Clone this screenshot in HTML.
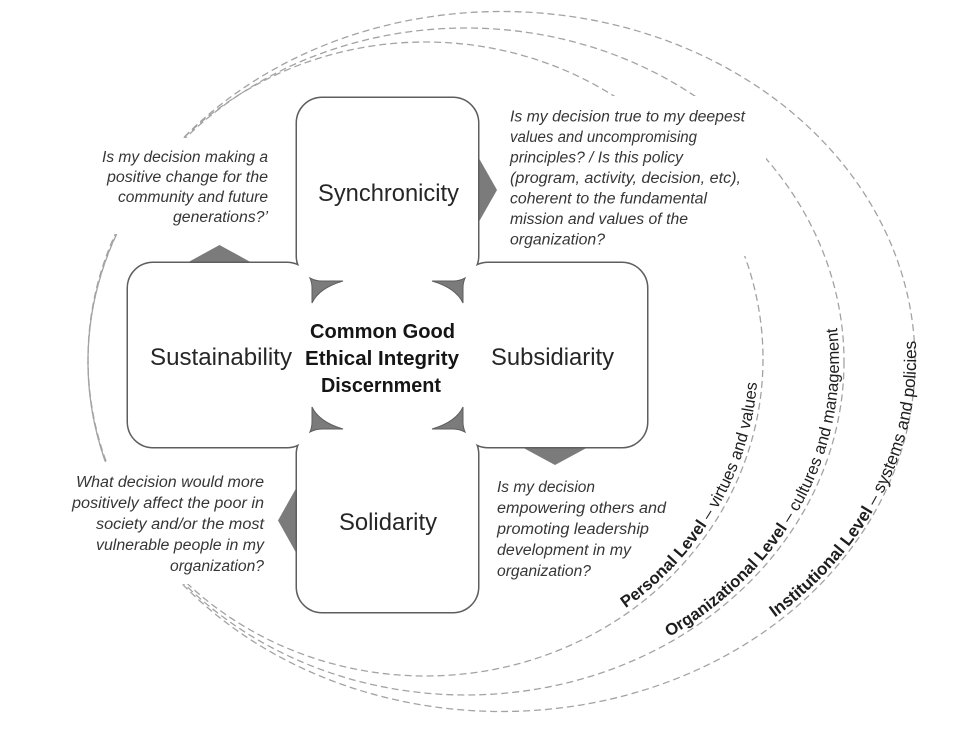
<!DOCTYPE html>
<html>
<head>
<meta charset="utf-8">
<style>
html,body{margin:0;padding:0;background:#fff;}
svg{display:block;}
</style>
</head>
<body>
<svg width="969" height="752" viewBox="0 0 969 752" xmlns="http://www.w3.org/2000/svg" xmlns:xlink="http://www.w3.org/1999/xlink">
<rect width="969" height="752" fill="#fff"/>

<!-- dashed level ellipses -->
<g fill="none" stroke="#a3a3a3" stroke-width="1.3" stroke-dasharray="7 4">
  <ellipse cx="425.5" cy="359" rx="337.5" ry="317"/>
  <ellipse cx="466" cy="361.5" rx="378" ry="333.5"/>
  <ellipse cx="501.5" cy="361.5" rx="413.5" ry="350"/>
</g>

<!-- white text-box covers -->
<g fill="#fff">
  <rect x="84" y="138" width="201" height="96"/>
  <rect x="498" y="96" width="268" height="160"/>
  <rect x="56" y="462" width="221" height="122"/>
</g>

<!-- outer pointer triangles -->
<g fill="#7b7b7b">
  <polygon points="476,153 497,190 476,227"/>
  <polygon points="183,265 219.5,245 256,265"/>
  <polygon points="518,445 555,465 592,445"/>
  <polygon points="299,483 278,520.5 299,558"/>
</g>

<defs>
  <path id="notch" d="M309.9,277.9 A25 25 0 0 0 322,281 L343,281 Q319,288 312,303 L312,288 A25 25 0 0 0 309.9,277.9 Z"/>
  <path id="pP" d="M625.6,608.2 A332.5 312 0 0 0 750.7,294.1" fill="none"/>
  <path id="pO" d="M669.1,637 A373 328.5 0 0 0 826.3,276.5" fill="none"/>
  <path id="pI" d="M774.8,617.5 A408.5 344.5 0 0 0 896.1,250" fill="none"/>
</defs>

<!-- boxes: union outline -->
<g fill="none" stroke="#5e5e5e" stroke-width="3">
  <rect x="297" y="98" width="181" height="183" rx="25"/>
  <rect x="128" y="263" width="184" height="184" rx="25"/>
  <rect x="463" y="263" width="184" height="184" rx="25"/>
  <rect x="297" y="429" width="181" height="183" rx="25"/>
</g>
<g fill="#fff">
  <rect x="297" y="98" width="181" height="183" rx="25"/>
  <rect x="128" y="263" width="184" height="184" rx="25"/>
  <rect x="463" y="263" width="184" height="184" rx="25"/>
  <rect x="297" y="429" width="181" height="183" rx="25"/>
  <!-- open center -->
  <rect x="310.3" y="279.3" width="154.4" height="151.4"/>
</g>

<!-- inner notch triangles -->
<g fill="#7b7b7b" stroke="#5e5e5e" stroke-width="1">
  <use xlink:href="#notch" href="#notch"/>
  <use xlink:href="#notch" href="#notch" transform="translate(775,0) scale(-1,1)"/>
  <use xlink:href="#notch" href="#notch" transform="translate(0,710) scale(1,-1)"/>
  <use xlink:href="#notch" href="#notch" transform="translate(775,710) scale(-1,-1)"/>
</g>

<!-- box labels -->
<g font-family="'Liberation Sans', Arial, sans-serif" font-size="24" fill="#262626">
  <text x="318" y="201" textLength="141" lengthAdjust="spacingAndGlyphs">Synchronicity</text>
  <text x="150" y="365" textLength="142" lengthAdjust="spacingAndGlyphs">Sustainability</text>
  <text x="491" y="365" textLength="123" lengthAdjust="spacingAndGlyphs">Subsidiarity</text>
  <text x="339" y="530" textLength="98" lengthAdjust="spacingAndGlyphs">Solidarity</text>
</g>

<!-- center -->
<g font-family="'Liberation Sans', Arial, sans-serif" font-size="20" font-weight="bold" fill="#151515">
  <text x="310" y="338" textLength="145" lengthAdjust="spacingAndGlyphs">Common Good</text>
  <text x="305" y="365" textLength="154" lengthAdjust="spacingAndGlyphs">Ethical Integrity</text>
  <text x="321" y="392" textLength="120" lengthAdjust="spacingAndGlyphs">Discernment</text>
</g>

<!-- questions -->
<g font-family="'Liberation Sans', Arial, sans-serif" font-size="15.5" font-style="italic" fill="#363636">
  <text x="102" y="162" textLength="166" lengthAdjust="spacingAndGlyphs">Is my decision making a</text>
  <text x="107" y="182" textLength="161" lengthAdjust="spacingAndGlyphs">positive change for the</text>
  <text x="118" y="202" textLength="150" lengthAdjust="spacingAndGlyphs">community and future</text>
  <text x="173" y="222" textLength="95" lengthAdjust="spacingAndGlyphs">generations?’</text>

  <text x="510" y="121.5" textLength="235" lengthAdjust="spacingAndGlyphs">Is my decision true to my deepest</text>
  <text x="510" y="142" textLength="187" lengthAdjust="spacingAndGlyphs">values and uncompromising</text>
  <text x="510" y="162.5" textLength="173" lengthAdjust="spacingAndGlyphs">principles? / Is this policy</text>
  <text x="510" y="183" textLength="231" lengthAdjust="spacingAndGlyphs">(program, activity, decision, etc),</text>
  <text x="510" y="203.5" textLength="197" lengthAdjust="spacingAndGlyphs">coherent to the fundamental</text>
  <text x="510" y="224" textLength="178" lengthAdjust="spacingAndGlyphs">mission and values of the</text>
  <text x="510" y="244.5" textLength="95" lengthAdjust="spacingAndGlyphs">organization?</text>

  <text x="76" y="487" textLength="188" lengthAdjust="spacingAndGlyphs">What decision would more</text>
  <text x="72" y="508" textLength="192" lengthAdjust="spacingAndGlyphs">positively affect the poor in</text>
  <text x="96" y="529" textLength="168" lengthAdjust="spacingAndGlyphs">society and/or the most</text>
  <text x="96" y="550" textLength="168" lengthAdjust="spacingAndGlyphs">vulnerable people in my</text>
  <text x="170" y="571" textLength="94" lengthAdjust="spacingAndGlyphs">organization?</text>

  <text x="497" y="492" textLength="98" lengthAdjust="spacingAndGlyphs">Is my decision</text>
  <text x="497" y="513" textLength="169" lengthAdjust="spacingAndGlyphs">empowering others and</text>
  <text x="497" y="534" textLength="152" lengthAdjust="spacingAndGlyphs">promoting leadership</text>
  <text x="497" y="555" textLength="134" lengthAdjust="spacingAndGlyphs">development in my</text>
  <text x="497" y="576" textLength="94" lengthAdjust="spacingAndGlyphs">organization?</text>
</g>

<!-- arc labels -->
<g font-family="'Liberation Sans', Arial, sans-serif" fill="#1e1e1e">
  <text font-size="16.6"><textPath xlink:href="#pP" href="#pP"><tspan font-weight="bold">Personal Level</tspan> – virtues and values</textPath></text>
  <text font-size="16.6"><textPath xlink:href="#pO" href="#pO"><tspan font-weight="bold">Organizational Level</tspan> – cultures and management</textPath></text>
  <text font-size="17.2"><textPath xlink:href="#pI" href="#pI"><tspan font-weight="bold">Institutional Level</tspan> – systems and policies</textPath></text>
</g>
</svg>
</body>
</html>
